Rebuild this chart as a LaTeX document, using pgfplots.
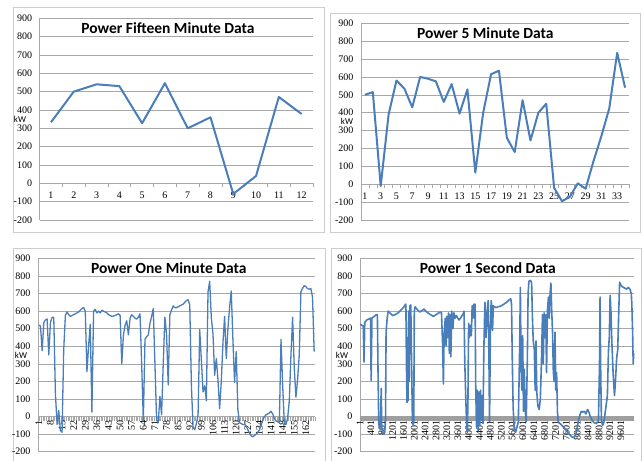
\documentclass[border=0pt]{standalone}
\usepackage{fontspec}
\setmainfont{Carlito}
\newfontfamily\tickfont{Liberation Serif}
\usepackage{pgfplots}
\pgfplotsset{compat=1.18}
\definecolor{xlblue}{RGB}{74,126,187}
\definecolor{gridc}{RGB}{168,168,168}
\definecolor{framec}{RGB}{205,205,205}
\pgfplotsset{
  panel/.style={
    scale only axis, anchor=south west,
    axis x line=middle, axis y line=left,
    axis line style={draw=gridc, line width=0.6pt, -},
    ymin=-200, ymax=900, ytick={-200,-100,...,900},
    ymajorgrids, grid style={draw=gridc, line width=0.6pt},
    hide obscured x ticks=false, hide obscured y ticks=false,
    scaled x ticks=false, scaled y ticks=false,
    /pgf/number format/1000 sep={},
    /pgf/number format/assume math mode=true,
    ticklabel style={font=\tickfont\fontsize{10}{11}\selectfont},
    yticklabel style={xshift=-4pt},
    major tick length=0pt, minor tick length=4pt,
    tick style={draw=gridc, line width=0.5pt},
    tick align=outside,
    clip=false,
  }
}
\begin{document}
\begin{tikzpicture}
\useasboundingbox (0,0) rectangle (644pt,460pt);
\draw[framec, line width=0.8pt] (13pt,228pt) rectangle (324pt,453pt);
\draw[framec, line width=0.8pt] (330pt,228pt) rectangle (640pt,447pt);
\draw[framec, line width=0.8pt] (13pt,-5pt) rectangle (325pt,212pt);
\draw[framec, line width=0.8pt] (331pt,-5pt) rectangle (641pt,212pt);

% Fifteen minute
\begin{axis}[panel, at={(39.6pt,240pt)}, width=273.4pt, height=201.7pt,
  xmin=0.5, xmax=12.5, xtick={1,...,12}, minor xtick={0.5,1.5,...,12.5},
  xticklabel style={yshift=-5pt}]
\addplot[xlblue, line width=2pt, line join=round] coordinates {
(1,333)(2,500)(3,540)(4,530)(5,328)(6,546)(7,300)(8,360)(9,-58)(10,40)(11,471)(12,378)};
\end{axis}

% 5 minute
\begin{axis}[panel, at={(361pt,240pt)}, width=268pt, height=196.7pt,
  xmin=0.5, xmax=34.5, xtick={1,3,...,33}, minor xtick={0.5,1.5,...,34.5},
  xticklabel style={yshift=-5pt}]
\addplot[xlblue, line width=2pt, line join=round] coordinates {
(1,500)(2,515)(3,-10)(4,390)(5,580)(6,535)(7,430)(8,600)(9,590)(10,575)
(11,460)(12,560)(13,395)(14,530)(15,65)(16,400)(17,615)(18,635)(19,260)(20,180)
(21,470)(22,245)(23,400)(24,450)(25,-20)(26,-95)(27,-70)(28,5)(29,-25)(30,130)
(31,270)(32,425)(33,735)(34,540)};
\end{axis}

% One minute
\begin{axis}[panel, at={(38pt,8.3pt)}, width=277pt, height=193.3pt,
  xmin=0.5, xmax=167.5, xtick={1,8,...,162}, minor xtick={0.5,1.5,...,167.5},
  xticklabel style={rotate=90, anchor=east}]
\addplot[xlblue, line width=1.3pt, line join=round] coordinates {
(1,520)(2,515)(3,375)(4,535)(5,550)(6,555)(7,350)(8,535)(9,565)(10,565)
(11,130)(12,-45)(13,35)(14,-80)(15,-90)(16,380)(17,575)(18,595)(19,580)(20,570)
(21,575)(22,580)(23,585)(24,590)(25,595)(26,605)(27,615)(28,620)(29,600)(30,255)
(31,400)(32,525)(33,25)(34,600)(35,610)(36,590)(37,600)(38,590)(39,605)(40,600)
(41,595)(42,590)(43,580)(44,575)(45,570)(46,572)(47,575)(48,580)(49,585)(50,575)
(51,300)(52,465)(53,520)(54,545)(55,465)(56,560)(57,580)(58,570)(59,560)(60,555)
(61,565)(62,585)(63,300)(64,-25)(65,440)(66,455)(67,465)(68,530)(69,570)(70,615)
(71,300)(72,-20)(73,-35)(74,115)(75,10)(76,300)(77,565)(78,470)(79,180)(80,580)
(81,605)(82,630)(83,620)(84,620)(85,625)(86,630)(87,635)(88,640)(89,650)(90,660)
(91,665)(92,635)(93,170)(94,-60)(95,-75)(96,-40)(97,10)(98,495)(99,320)(100,140)
(101,175)(102,90)(103,710)(104,770)(105,560)(106,470)(107,235)(108,330)(109,210)(110,45)
(111,200)(112,420)(113,570)(114,330)(115,500)(116,620)(117,715)(118,440)(119,195)(120,370)
(121,40)(122,-35)(123,-40)(124,-45)(125,-45)(126,-55)(127,-75)(128,-95)(129,-110)(130,-115)
(131,-108)(132,-100)(133,-90)(134,-75)(135,-50)(136,-20)(137,0)(138,10)(139,15)(140,20)
(141,30)(142,15)(143,-10)(144,-25)(145,-30)(146,-35)(147,440)(148,180)(149,-40)(150,-45)
(151,-10)(152,90)(153,350)(154,565)(155,275)(156,110)(157,210)(158,350)(159,710)(160,730)
(161,745)(162,740)(163,728)(164,725)(165,728)(166,680)(167,370)};
\end{axis}

% 1 second
\begin{axis}[panel, at={(360pt,8.3pt)}, width=274pt, height=193.3pt,
  xmin=0, xmax=10090, xtick={1,401,...,9601},
  xticklabel style={rotate=90, anchor=east}]
\fill[gray!75] (axis cs:0,4) rectangle (axis cs:10090,-24);
\addplot[xlblue, line width=1.6pt, line join=round] coordinates {
(1,525)(60,520)(120,515)(150,310)(175,535)(250,550)(330,555)(390,560)(410,205)(440,560)
(520,570)(600,580)(640,580)(660,300)(690,-40)(730,-70)(760,-20)(780,160)(800,-60)(830,-90)
(880,-100)(910,-90)(940,-20)(960,480)(1000,560)(1040,600)(1100,590)(1200,575)(1300,580)(1400,590)
(1500,605)(1600,620)(1660,635)(1690,640)(1710,300)(1730,80)(1750,450)(1770,90)(1790,600)(1810,200)
(1840,630)(1870,635)(1900,300)(1930,-20)(1960,-50)(1980,-30)(2000,600)(2030,625)(2100,610)(2200,595)
(2300,605)(2360,612)(2420,600)(2500,590)(2600,580)(2700,570)(2800,580)(2900,590)(2960,595)(3000,590)
(3040,420)(3070,185)(3100,480)(3140,560)(3170,400)(3200,570)(3230,450)(3260,590)(3290,360)(3320,580)
(3345,340)(3380,600)(3420,500)(3460,590)(3500,560)(3550,575)(3600,560)(3650,550)(3700,560)(3760,575)
(3800,585)(3830,600)(3860,300)(3900,80)(3930,-60)(3955,-90)(3975,100)(4000,530)(4030,450)(4060,520)
(4100,460)(4130,630)(4160,560)(4190,640)(4220,560)(4240,640)(4260,180)(4290,-60)(4320,150)(4350,-80)
(4380,140)(4410,-50)(4440,150)(4470,-20)(4500,120)(4530,-40)(4560,380)(4600,650)(4640,450)(4680,600)
(4720,660)(4750,300)(4770,-30)(4800,480)(4830,660)(4860,620)(4880,490)(4910,630)(5000,620)(5100,625)
(5200,630)(5300,640)(5400,650)(5500,665)(5550,670)(5580,640)(5610,300)(5640,50)(5680,-70)(5730,-90)
(5780,-60)(5830,-30)(5880,400)(5905,735)(5930,300)(5960,150)(5990,460)(6020,30)(6050,270)(6080,40)
(6120,-30)(6160,300)(6190,700)(6220,770)(6280,775)(6320,760)(6350,560)(6380,430)(6420,380)(6450,150)
(6480,430)(6510,140)(6550,60)(6600,40)(6640,100)(6680,300)(6720,580)(6750,300)(6780,590)(6810,450)
(6840,580)(6870,250)(6900,600)(6940,680)(6970,560)(7000,700)(7030,760)(7060,600)(7090,480)(7120,250)
(7150,200)(7180,480)(7210,150)(7240,250)(7270,30)(7300,-30)(7400,-45)(7500,-60)(7600,-80)(7700,-100)
(7800,-115)(7880,-120)(7950,-100)(8000,-60)(8050,-20)(8100,10)(8150,30)(8200,25)(8260,30)(8320,15)
(8380,40)(8420,30)(8480,0)(8550,-20)(8620,-35)(8700,-40)(8780,-25)(8820,300)(8840,680)(8860,300)
(8890,-20)(8930,-50)(8970,-40)(9010,0)(9060,60)(9110,120)(9150,380)(9180,450)(9210,690)(9240,600)
(9280,400)(9320,250)(9370,120)(9400,180)(9450,330)(9490,380)(9520,550)(9560,765)(9600,750)(9650,740)
(9700,735)(9760,730)(9820,725)(9880,735)(9940,725)(9990,700)(10010,640)(10040,470)(10060,300)(10080,360)};
\end{axis}

\begin{scope}[font=\bfseries\fontsize{15.5}{17}\selectfont]
\node at (168pt,431.7pt) {Power Fifteen Minute Data};
\node at (485.3pt,427.3pt) {Power 5 Minute Data};
\node at (168.8pt,191.7pt) {Power One Minute Data};
\node at (487.8pt,191.7pt) {Power 1 Second Data};
\end{scope}
\begin{scope}[font=\fontsize{9}{9}\selectfont, inner sep=0pt]
\node at (20pt,341pt) {kW};
\node at (347pt,338.4pt) {kW};
\node at (21pt,105pt) {kW};
\node at (342pt,105pt) {kW};
\end{scope}
\end{tikzpicture}
\end{document}
